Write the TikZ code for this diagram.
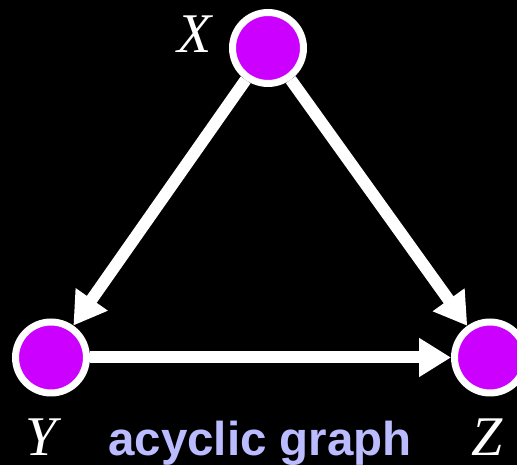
\documentclass[tikz,border=0pt]{standalone}
\usepackage{fontspec}
\setsansfont{Liberation Sans}
\newfontfamily\varfont{Liberation Serif}
\usepackage{xcolor}
\usetikzlibrary{arrows.meta,positioning}
\definecolor{nodepurple}{RGB}{204,0,255}
\definecolor{captionblue}{RGB}{187,187,255}

\begin{document}
\begin{tikzpicture}[x=1pt, y=1pt]
    % Stili
    \tikzstyle{vertex}=[circle, draw=white, line width=7pt, fill=nodepurple, minimum size=71pt, inner sep=0pt]
    \tikzstyle{varlabel}=[text=white, anchor=base, inner sep=0pt, font=\varfont\itshape\fontsize{56}{60}\selectfont]
    \tikzstyle{arrow}=[-{Triangle[length=32pt, width=37pt]}, draw=white, line width=12pt]

    % Sfondo
    \fill[black] (0,0) rectangle (517,465);
    \useasboundingbox (0,0) rectangle (517,465);

    % Nodi
    \node (x) [vertex] at (268,417) {};
    \node (y) [vertex] at (51,107.5) {};
    \node (z) [vertex] at (490,107.5) {};

    % Etichette
    \node (xlab) [varlabel] at (195,412) {X};
    \node (ylab) [varlabel] at (41,9) {Y};
    \node (zlab) [varlabel] at (487,9) {Z};
    \node (caption) [anchor=base, inner sep=0pt, text=captionblue, font=\sffamily\bfseries\fontsize{47.5}{50}\selectfont] at (260,9) {acyclic graph};

    % Collegamenti
    \draw [arrow] (x) -- (y);
    \draw [arrow] (x) -- (z);
    \draw [arrow] (y) -- (z);
\end{tikzpicture}
\end{document}
